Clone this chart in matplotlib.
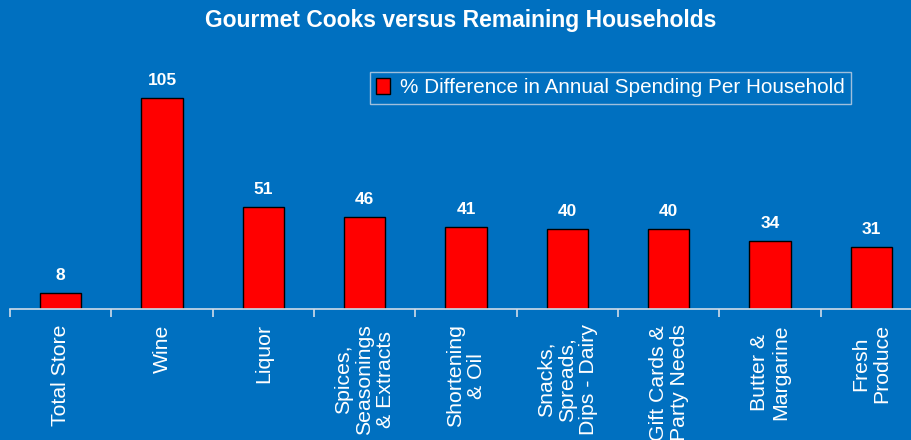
import numpy as np
import matplotlib
matplotlib.use("Agg")
from matplotlib import pyplot as plt
from matplotlib.ticker import FixedLocator

categories = ["Total Store", "Wine", "Liquor", "Spices,\nSeasonings\n& Extracts",
              "Shortening\n& Oil", "Snacks,\nSpreads,\nDips - Dairy",
              "Gift Cards &\nParty Needs", "Butter &\nMargarine", "Fresh\nProduce"]
values = [8, 105, 51, 46, 41, 40, 40, 34, 31]
series_name = "% Difference in Annual Spending Per Household"
title = "Gourmet Cooks versus Remaining Households"

BG = "#0070C0"
plt.rcParams["font.family"] = ["Liberation Sans", "DejaVu Sans"]

fig = plt.figure(figsize=(9.12, 4.4), dpi=100, facecolor=BG)
ax = fig.add_axes([10 / 912, 131 / 440, 912 / 912, 241 / 440])
ax.set_facecolor(BG)

x = np.arange(len(categories))
bars = ax.bar(x, values, width=0.41, color="#FF0000", edgecolor="black",
              linewidth=1.0, label=series_name)

for b, v in zip(bars, values):
    ax.annotate(str(v), (b.get_x() + b.get_width() / 2, v),
                xytext=(0, 7), textcoords="offset points",
                ha="center", va="bottom", color="white",
                fontsize=12.5, fontweight="bold")

ax.set_xlim(-0.5, len(categories) - 0.5)
ax.set_ylim(0, 120)

for s in ["top", "right", "left"]:
    ax.spines[s].set_visible(False)
ax.spines["bottom"].set_color("#D0DCE8")
ax.spines["bottom"].set_linewidth(1.2)
ax.set_yticks([])

ax.set_xticks(x)
ax.set_xticklabels(categories, rotation=90, ha="center", va="top",
                   multialignment="center", color="white", fontsize=15.3,
                   linespacing=1.15)
ax.tick_params(axis="x", which="major", length=0, pad=11)
ax.xaxis.set_minor_locator(FixedLocator(np.arange(len(categories) + 1) - 0.5))
ax.tick_params(axis="x", which="minor", length=6, width=1.2, color="#D0DCE8")

fig.text(461 / 912, 1 - 21 / 440, title, ha="center", va="center",
         color="white", fontsize=16.5, fontweight="bold")

leg = ax.legend(loc="upper left", bbox_to_anchor=(360 / 912, (440 - 72 - 131) / 241),
                frameon=True, fancybox=False, fontsize=14.9, labelcolor="white",
                handlelength=0.65, handleheight=0.8, handletextpad=0.5,
                borderpad=0.3, borderaxespad=0)
leg.get_frame().set_facecolor(BG)
leg.get_frame().set_edgecolor("#C8D4E4")
leg.get_frame().set_linewidth(1.0)

fig.savefig("out.png", dpi=100, facecolor=BG)
